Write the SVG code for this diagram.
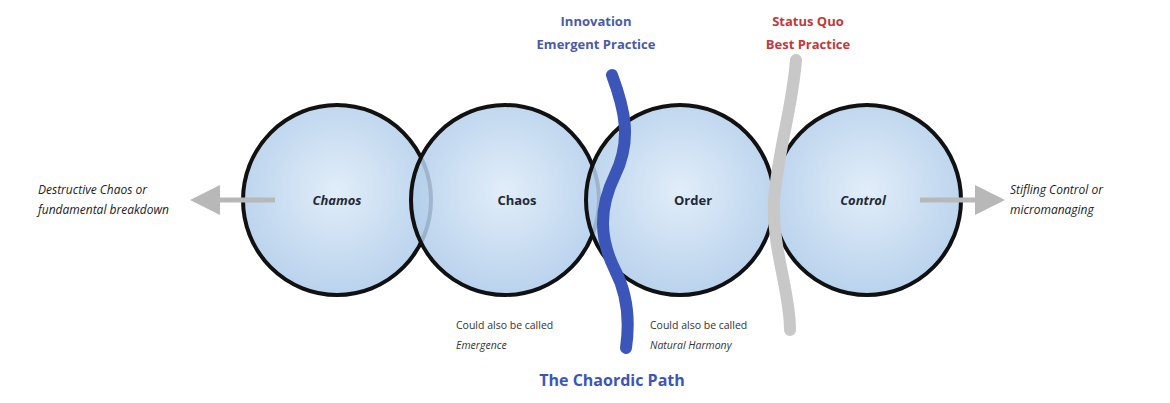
<svg xmlns="http://www.w3.org/2000/svg" width="1170" height="403" viewBox="0 0 1170 403">
<defs>
<radialGradient id="g" cx="0.5" cy="0.45" r="0.6"><stop offset="0" stop-color="#dceaf8"/><stop offset="1" stop-color="#a9c8e8"/></radialGradient>
<marker id="ah" markerWidth="6" markerHeight="6" refX="3" refY="3" orient="auto" markerUnits="strokeWidth"><path d="M0,0L6,3L0,6z" fill="#b8b8b8"/></marker>
<style>
.c{fill:url(#g);fill-opacity:0.85;stroke:#111;stroke-width:4}
.t{font-family:"Open Sans","Liberation Sans",sans-serif;font-weight:bold;font-size:13px;fill:#1f2a3a;text-anchor:middle}
.s{font-family:"Open Sans","Liberation Sans",sans-serif;font-size:10.5px;fill:#333}
.side{font-family:"Open Sans","Liberation Sans",sans-serif;font-style:italic;font-size:12px;fill:#222}
</style>
</defs>
<rect width="1170" height="403" fill="#fff"/>
<g id="chamos"><ellipse class="c" cx="337" cy="200" rx="94" ry="95"/><text class="t" x="337" y="205" font-style="italic">Chamos</text></g>
<g id="chaos"><ellipse class="c" cx="505" cy="200" rx="94" ry="95"/><text class="t" x="517" y="205">Chaos</text></g>
<g id="order"><ellipse class="c" cx="680" cy="200" rx="94" ry="95"/><text class="t" x="693" y="205">Order</text></g>
<g id="control"><ellipse class="c" cx="867" cy="200" rx="94" ry="95"/><text class="t" x="863" y="205" font-style="italic">Control</text></g>
<g id="connectors">
<path d="M275,200H205" stroke="#b8b8b8" stroke-width="5" marker-end="url(#ah)"/>
<path d="M920,200H990" stroke="#b8b8b8" stroke-width="5" marker-end="url(#ah)"/>
<path d="M612,75 C625,110 632,140 615,175 C598,210 600,240 615,270 C628,295 630,320 626,348" fill="none" stroke="#3b56b8" stroke-width="12" stroke-linecap="round"/>
<path d="M796,60 C792,110 778,150 774,200 C772,250 790,290 790,330" fill="none" stroke="#c8c8c8" stroke-width="12" stroke-linecap="round"/>
</g>
<g id="labels">
<text class="t" x="596" y="26" fill="#4a5aa8" style="fill:#4a5aa8">Innovation</text>
<text class="t" x="596" y="49" style="fill:#4a5aa8">Emergent Practice</text>
<text class="t" x="808" y="26" style="fill:#c0393b">Status Quo</text>
<text class="t" x="808" y="49" style="fill:#c0393b">Best Practice</text>
<text class="side" x="38" y="194">Destructive Chaos or</text>
<text class="side" x="38" y="214">fundamental breakdown</text>
<text class="side" x="1010" y="194">Stifling Control or</text>
<text class="side" x="1010" y="214">micromanaging</text>
<text class="s" x="456" y="329">Could also be called</text>
<text class="s" x="456" y="349" font-style="italic">Emergence</text>
<text class="s" x="650" y="329">Could also be called</text>
<text class="s" x="650" y="349" font-style="italic">Natural Harmony</text>
<text class="t" x="612" y="386" style="fill:#3b56b8;font-size:16px">The Chaordic Path</text>
</g>
</svg>
